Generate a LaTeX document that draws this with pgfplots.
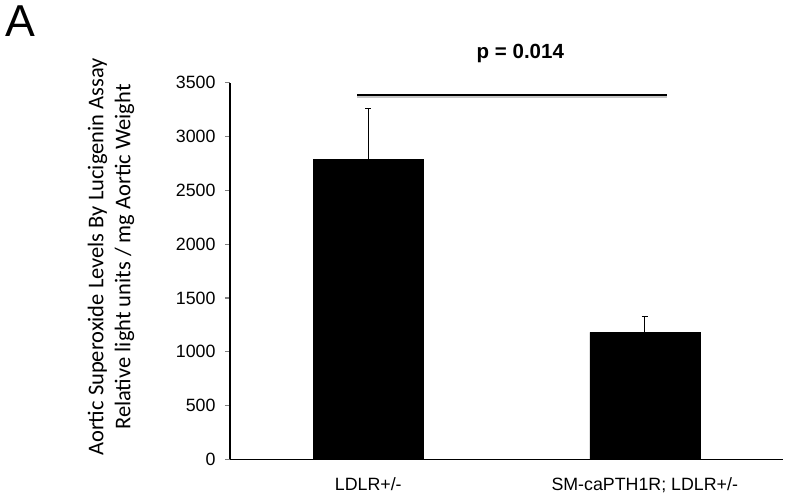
\documentclass[border=0pt]{standalone}
\usepackage{fontspec}
\setmainfont{Liberation Sans}
\newfontfamily\calibri{Carlito}
\usepackage{pgfplots}
\pgfplotsset{compat=1.18}

\begin{document}
\begin{tikzpicture}
\useasboundingbox (-230pt,-39.7pt) rectangle (557pt,459.3pt);
\begin{axis}[
    scale only axis,
    width=553pt,
    height=376.6pt,
    xmin=-0.5, xmax=1.5,
    ymin=0, ymax=3500,
    ytick={0,500,...,3500},
    xtick=data,
    xticklabels={LDLR+/-, {SM-caPTH1R; LDLR+/-}},
    axis x line=bottom,
    axis y line=left,
    axis line style={-, line width=1.2pt},
    xtick style={draw=none},
    ytick style={line width=1.2pt},
    tick align=outside,
    major tick length=5pt,
    ticklabel style={font=\fontsize{17.8}{21}\selectfont},
    yticklabel style={xshift=-6pt},
    xticklabel style={yshift=-10pt},
    /pgf/number format/assume math mode=true,
    /pgf/number format/1000 sep={},
    clip=false,
  ]
  \addplot[ybar, bar width=110pt, fill=black, draw=black,
    error bars/.cd, y dir=plus, y explicit,
    error bar style={line width=0.9pt},
    error mark options={rotate=90, mark size=3pt, line width=0.9pt}]
    coordinates {
    (0,2785) +- (0,475)
    (1,1180) +- (0,150)
  };
  % significance bar with faint shadow
  \addplot[gray!45, line width=2.5pt, yshift=-1.5pt, forget plot] coordinates {(-0.04,3385) (1.08,3385)};
  \addplot[black, line width=2.8pt, forget plot] coordinates {(-0.04,3385) (1.08,3385)};
  \node[anchor=base, font=\fontsize{20.5}{24}\selectfont\bfseries] at (axis cs:0.55,3727) {p = 0.014};
  \node[rotate=90, align=center, font=\calibri\fontsize{22.5}{27}\selectfont] at (rel axis cs:-0.215,0.537)
    {Aortic Superoxide Levels By Lucigenin Assay\\Relative light units / mg Aortic Weight};
  \node[anchor=base west, inner sep=0pt, font=\fontsize{44.7}{50}\selectfont] at (rel axis cs:-0.4069,1.1214) {A};
\end{axis}
\end{tikzpicture}
\end{document}
